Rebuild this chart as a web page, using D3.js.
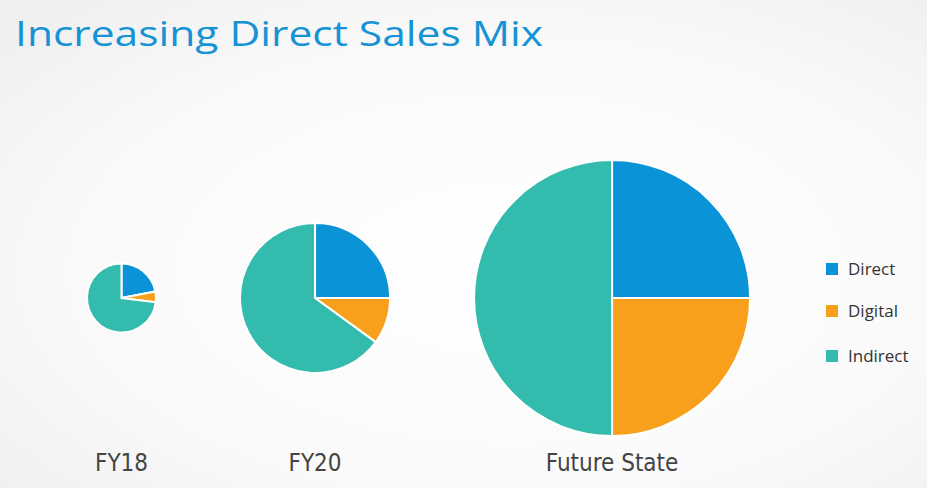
<!DOCTYPE html>
<html>
<head>
<meta charset="utf-8">
<script src="https://cdn.jsdelivr.net/npm/d3@7"></script>
<style>
  html, body { margin: 0; padding: 0; }
  body { width: 927px; height: 488px; overflow: hidden; }
</style>
</head>
<body>
<svg id="chart" width="927" height="488"></svg>
<script>
const categories = ["Direct", "Digital", "Indirect"];
const periods = ["FY18", "FY20", "Future State"];
const directShare = [22, 25, 25];
const digitalShare = [5, 10, 25];
const indirectShare = [73, 65, 50];
const relativeSize = [1, 4.73, 16];
const colors = ["#0a93d6", "#f8a01c", "#33bbad"];
const titleText = "Increasing Direct Sales Mix";

const W = 927, H = 488;
const svg = d3.select("#chart");

// background
const defs = svg.append("defs");
const grad = defs.append("radialGradient").attr("id", "bg")
  .attr("cx", "55%").attr("cy", "55%").attr("r", "75%");
grad.append("stop").attr("offset", "0%").attr("stop-color", "#ffffff");
grad.append("stop").attr("offset", "60%").attr("stop-color", "#fafafa");
grad.append("stop").attr("offset", "100%").attr("stop-color", "#efefef");
svg.append("rect").attr("width", W).attr("height", H).attr("fill", "url(#bg)");

// title
svg.append("text")
  .attr("x", 15).attr("y", 46)
  .attr("font-family", "'Open Sans', 'Noto Sans', sans-serif")
  .attr("font-size", 35)
  .attr("font-weight", 400)
  .attr("fill", "#1593d4")
  .attr("textLength", 528)
  .attr("lengthAdjust", "spacingAndGlyphs")
  .text(titleText);

const color = d3.scaleOrdinal().domain(categories).range(colors);
const rScale = d3.scaleSqrt().domain([0, d3.max(relativeSize)]).range([0, 138]);

const data = periods.map((p, i) => ({
  period: p,
  size: relativeSize[i],
  values: [
    { cat: categories[0], v: directShare[i] },
    { cat: categories[1], v: digitalShare[i] },
    { cat: categories[2], v: indirectShare[i] }
  ]
}));

// layout: pies placed left to right with a constant gap between edges
const startX = 87, gap = 84, cy = 298;
let cursor = startX;
data.forEach(d => {
  d.r = rScale(d.size);
  d.cx = cursor + d.r;
  cursor += 2 * d.r + gap;
});

const pie = d3.pie().sort(null).value(d => d.v);
const arc = d3.arc().innerRadius(0);

const groups = svg.selectAll("g.pie").data(data).join("g")
  .attr("class", "pie")
  .attr("transform", d => `translate(${d.cx},${cy})`);

groups.selectAll("path").data(d => pie(d.values).map(a => ({ ...a, r: d.r })))
  .join("path")
  .attr("d", a => arc.outerRadius(a.r)(a))
  .attr("fill", a => color(a.data.cat))
  .attr("stroke", "#ffffff")
  .attr("stroke-width", 2)
  .attr("stroke-linejoin", "miter");

// period labels
svg.selectAll("text.period").data(data).join("text")
  .attr("class", "period")
  .attr("x", d => d.cx)
  .attr("y", 471)
  .attr("text-anchor", "middle")
  .attr("font-family", "'Liberation Sans Narrow', 'DejaVu Sans Condensed', 'Roboto', sans-serif")
  .attr("font-size", 24)
  .attr("fill", "#444444")
  .text(d => d.period);

// legend
const legendY = [269, 311, 356];
const legend = svg.selectAll("g.leg").data(categories).join("g")
  .attr("class", "leg")
  .attr("transform", (d, i) => `translate(826,${legendY[i]})`);
legend.append("rect")
  .attr("x", 0).attr("y", -6).attr("width", 12).attr("height", 12)
  .attr("fill", d => color(d));
legend.append("text")
  .attr("x", 22).attr("y", 6)
  .attr("font-family", "'Open Sans', 'Noto Sans', sans-serif")
  .attr("font-size", 17)
  .attr("fill", "#333333")
  .text(d => d);
</script>
</body>
</html>
